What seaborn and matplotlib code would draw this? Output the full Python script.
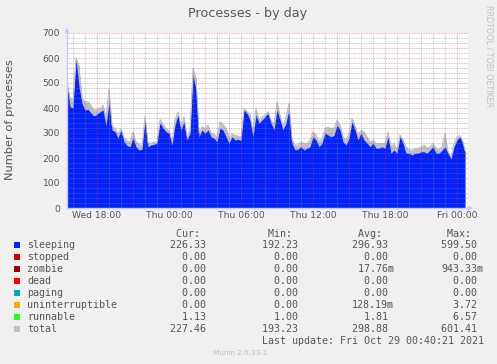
import matplotlib
matplotlib.use('Agg')
import pandas as pd
import matplotlib.pyplot as plt
import matplotlib.dates as mdates
from matplotlib.ticker import MultipleLocator, FuncFormatter
from matplotlib.patches import Rectangle
import seaborn as sns

# 15 minute samples, Wed 15:30 -> Fri 00:30, plus the last update at 00:40
sleeping = [500, 405, 400, 595, 485, 418, 392, 395, 380, 368, 375, 385, 392, 330, 420,
            312, 305, 280, 312, 265, 250, 245, 280, 245, 232, 235, 352, 245, 252, 255,
            259, 340, 320, 305, 299, 252, 332, 372, 312, 345, 272, 299, 530, 472, 285,
            312, 299, 312, 285, 279, 265, 319, 312, 285, 259, 285, 272, 275, 270, 392,
            379, 352, 285, 372, 339, 352, 365, 379, 339, 312, 392, 352, 312, 339, 392,
            259, 232, 235, 245, 232, 239, 245, 285, 272, 245, 259, 299, 292, 285, 290,
            332, 312, 265, 252, 279, 345, 312, 272, 299, 272, 260, 245, 259, 239, 239,
            245, 239, 285, 219, 232, 219, 285, 259, 219, 219, 212, 219, 219, 225, 225,
            219, 232, 245, 219, 219, 230, 245, 219, 195, 245, 272, 285, 252, 226.33]
total = [505, 440, 430, 601, 570, 440, 425, 425, 410, 392, 395, 400, 412, 360, 478,
         330, 318, 298, 318, 280, 270, 265, 305, 265, 255, 250, 368, 259, 260, 262,
         268, 355, 335, 318, 310, 270, 352, 385, 325, 365, 285, 310, 559, 520, 300,
         325, 318, 332, 300, 295, 285, 345, 335, 319, 280, 298, 290, 288, 285, 399,
         386, 372, 305, 399, 352, 365, 372, 386, 352, 332, 425, 372, 325, 365, 419,
         272, 252, 252, 265, 258, 258, 272, 305, 292, 265, 278, 319, 323, 318, 320,
         352, 332, 285, 272, 298, 359, 332, 292, 312, 305, 285, 265, 272, 258, 258,
         258, 258, 305, 245, 259, 232, 292, 272, 245, 232, 232, 239, 239, 245, 252,
         239, 245, 259, 239, 232, 245, 299, 225, 205, 259, 285, 290, 265, 227.46]

times = list(pd.date_range('2021-10-27 15:30', periods=len(sleeping) - 1, freq='15min'))
times.append(pd.Timestamp('2021-10-29 00:40'))

df = pd.DataFrame({'time': times, 'sleeping': sleeping, 'total': total})

names = ['sleeping', 'stopped', 'zombie', 'dead', 'paging', 'uninterruptible', 'runnable', 'total']
colors = ['#0022ff', '#cc0000', '#990000', '#ff0000', '#00aaaa', '#ffa500', '#22ff22', '#c0c0c0']
cur = [(226.33, ' '), (0, ' '), (0, ' '), (0, ' '), (0, ' '), (0, ' '), (1.13, ' '), (227.46, ' ')]
mins = [(192.23, ' '), (0, ' '), (0, ' '), (0, ' '), (0, ' '), (0, ' '), (1.00, ' '), (193.23, ' ')]
avgs = [(296.93, ' '), (0, ' '), (17.76, 'm'), (0, ' '), (0, ' '), (128.19, 'm'), (1.81, ' '), (298.88, ' ')]
maxs = [(599.50, ' '), (0, ' '), (943.33, 'm'), (0, ' '), (0, ' '), (3.72, ' '), (6.57, ' '), (601.41, ' ')]

W, H = 497, 364
sns.set_style('white')
fig = plt.figure(figsize=(W / 100, H / 100), dpi=100, facecolor='#f0f0f0')
ax = fig.add_axes([67 / W, 1 - 208 / H, 401 / W, 175 / H])
ax.set_facecolor('white')

ax.fill_between(df['time'], 0, df['total'], color='#c0c0c0', lw=0)
ax.fill_between(df['time'], 0, df['sleeping'], color='#0022ff', lw=0)
sns.lineplot(data=df, x='time', y='total', color='#b8b8b8', lw=0.6, ax=ax)

ax.set_xlim(pd.Timestamp('2021-10-27 15:30'), pd.Timestamp('2021-10-29 00:55'))
ax.set_ylim(0, 700)
ax.yaxis.set_major_locator(MultipleLocator(100))
ax.yaxis.set_minor_locator(MultipleLocator(20))
ax.xaxis.set_major_locator(mdates.HourLocator(byhour=range(0, 24, 3)))
ax.xaxis.set_minor_locator(mdates.HourLocator())


def fmt(v, p):
    d = mdates.num2date(v)
    return d.strftime('%a %H:%M') if d.hour % 6 == 0 else ''


ax.xaxis.set_major_formatter(FuncFormatter(fmt))

ax.set_axisbelow(False)
ax.grid(which='minor', color='#888888', alpha=0.6, ls=(0, (1, 1)), lw=0.6)
ax.grid(which='major', color='#ff3333', alpha=0.5, ls=(0, (1, 1)), lw=0.6)
ax.tick_params(which='both', direction='in', length=0, colors='#555555', labelsize=6.6)
ax.tick_params(axis='y', pad=5)
ax.tick_params(axis='x', pad=2.5)
ax.set_xlabel('')
ax.set_ylabel('')
for s in ['top', 'right']:
    ax.spines[s].set_visible(False)
for s in ['left', 'bottom']:
    ax.spines[s].set_color('#c8c8ff')
    ax.spines[s].set_linewidth(1)
ax.annotate('', xy=(0, 1.045), xytext=(0, 1.0), xycoords='axes fraction',
            arrowprops=dict(arrowstyle='-|>', color='#c8c8ff', lw=1, mutation_scale=6))
ax.annotate('', xy=(1.012, 0), xytext=(1.0, 0), xycoords='axes fraction',
            arrowprops=dict(arrowstyle='-|>', color='#c8c8ff', lw=1, mutation_scale=6))


def px(x, y):
    return x / W, 1 - y / H


fig.text(*px(248, 13), 'Processes - by day', ha='center', va='center', fontsize=9.2, color='#555555')
fig.text(*px(10, 120), 'Number of processes', ha='center', va='center', rotation=90,
         fontsize=8.2, color='#555555')
fig.text(*px(488.5, 56), 'RRDTOOL / TOBI OETIKER', ha='center', va='center', rotation=270,
         fontsize=5.8, color='#c0c0c0')
fig.text(*px(240, 353), 'Munin 2.0.33-1', ha='center', va='center', fontsize=5.2, color='#c0c0c0')

mono = dict(family='DejaVu Sans Mono', fontsize=7.2, color='#555555', va='center')
cols = [170.5, 261.5, 351.5, 441.3]
for x0, h in zip(cols, ['Cur:', 'Min:', 'Avg:', 'Max:']):
    fig.text(*px(x0, 233.5), ' ' + h, ha='left', **mono)
for i, name in enumerate(names):
    y = 245.3 + 12 * i
    fig.add_artist(Rectangle(px(14, y + 3), 6 / W, 6 / H, transform=fig.transFigure,
                             color=colors[i], lw=0))
    fig.text(*px(27, y), name, ha='left', **mono)
    for x0, col in zip(cols, [cur, mins, avgs, maxs]):
        v, suf = col[i]
        fig.text(*px(x0, y), f'{v:6.2f}{suf}', ha='left', **mono)
fig.text(*px(261.5, 341), 'Last update: Fri Oct 29 00:40:21 2021', ha='left', **mono)

fig.savefig('out.png', dpi=100, facecolor=fig.get_facecolor())
